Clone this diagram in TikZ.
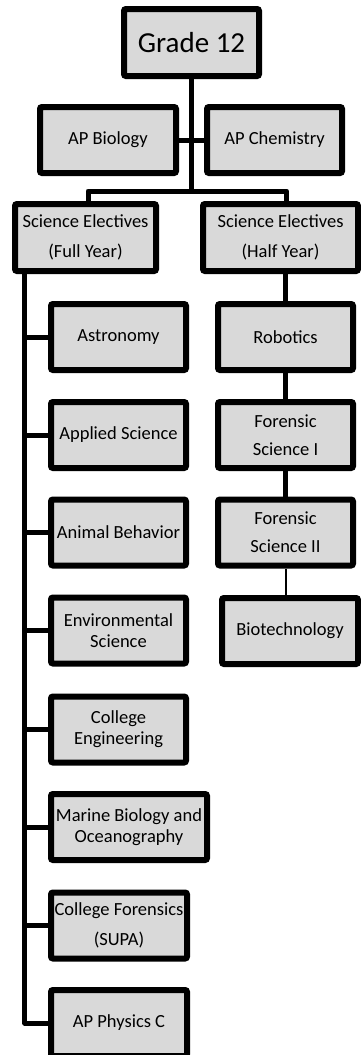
\documentclass[tikz,border=0pt]{standalone}
\usepackage{fontspec}
\setmainfont{Carlito}
\usepackage{tikz}
\definecolor{boxgray}{HTML}{D9D9D9}
\tikzset{
  course/.style={draw, fill=boxgray, line width=6pt, rounded corners=2pt, inner sep=0pt,
    align=center, minimum width=135pt, minimum height=66pt, font=\fontsize{18.5}{21}\selectfont},
  link/.style={line width=5pt, line join=round},
  thinlink/.style={line width=2pt}
}

\begin{document}
\begin{tikzpicture}[x=1pt,y=-1pt]
\useasboundingbox (0,0) rectangle (361,1055);
\clip (0,0) rectangle (361,1055);
% top of the chart
\node[course, minimum height=67pt, font=\fontsize{29}{32}\selectfont] (grade) at (191.5,42.5) {Grade 12};
\node[course, minimum width=136pt] (apbio) at (108,140) {AP Biology};
\node[course] (apchem) at (274.5,140) {AP Chemistry};
\node[course, minimum width=141pt, minimum height=67pt] (sefull) at (85.5,237.5) {Science Electives\\[9pt](Full Year)};
\node[course, minimum width=155pt, minimum height=67pt] (sehalf) at (280.5,237.5) {Science Electives\\[9pt](Half Year)};
% full year column
\node[course] (astro) at (118.5,337) {Astronomy};
\node[course] (applied) at (118.5,435) {Applied Science};
\node[course] (animal) at (118.5,532.5) {Animal Behavior};
\node[course] (env) at (118.5,630.5) {Environmental\\Science};
\node[course] (colleng) at (118.5,729.5) {College\\Engineering};
\node[course, minimum width=156pt] (marine) at (129,827) {Marine Biology and\\Oceanography};
\node[course, minimum width=136pt] (colfor) at (119,925.5) {College Forensics\\[9pt](SUPA)};
\node[course, minimum width=136pt] (physc) at (119,1023) {AP Physics C};
% half year column
\node[course] (robot) at (285.5,337) {Robotics};
\node[course] (fsi) at (285.5,435) {Forensic\\[7pt]Science I};
\node[course] (fsii) at (285.5,532.5) {Forensic\\[7pt]Science II};
\node[course, minimum width=136pt] (biotech) at (290,631) {Biotechnology};

\coordinate (split) at (191.5,191);
\draw[link] (grade.south) -- (split);
\draw[link] (apbio.east) -- (apchem.west);
\draw[link] ([xshift=2.5pt]sefull.north) |- (split) -| ([xshift=6pt]sehalf.north);

\coordinate (trunk) at ([xshift=12.7pt]sefull.south west);
\draw[link] (trunk) |- (physc.west);
\foreach \n in {astro,applied,animal,env,colleng,marine,colfor}
  \draw[link] (trunk |- \n.west) -- (\n.west);

\draw[link] (sehalf.south -| robot.north) -- (robot.north);
\draw[link] (robot.south) -- (fsi.north);
\draw[link] (fsi.south) -- (fsii.north);
\draw[thinlink] (fsii.south) -- (fsii.south |- biotech.north);
\end{tikzpicture}
\end{document}
